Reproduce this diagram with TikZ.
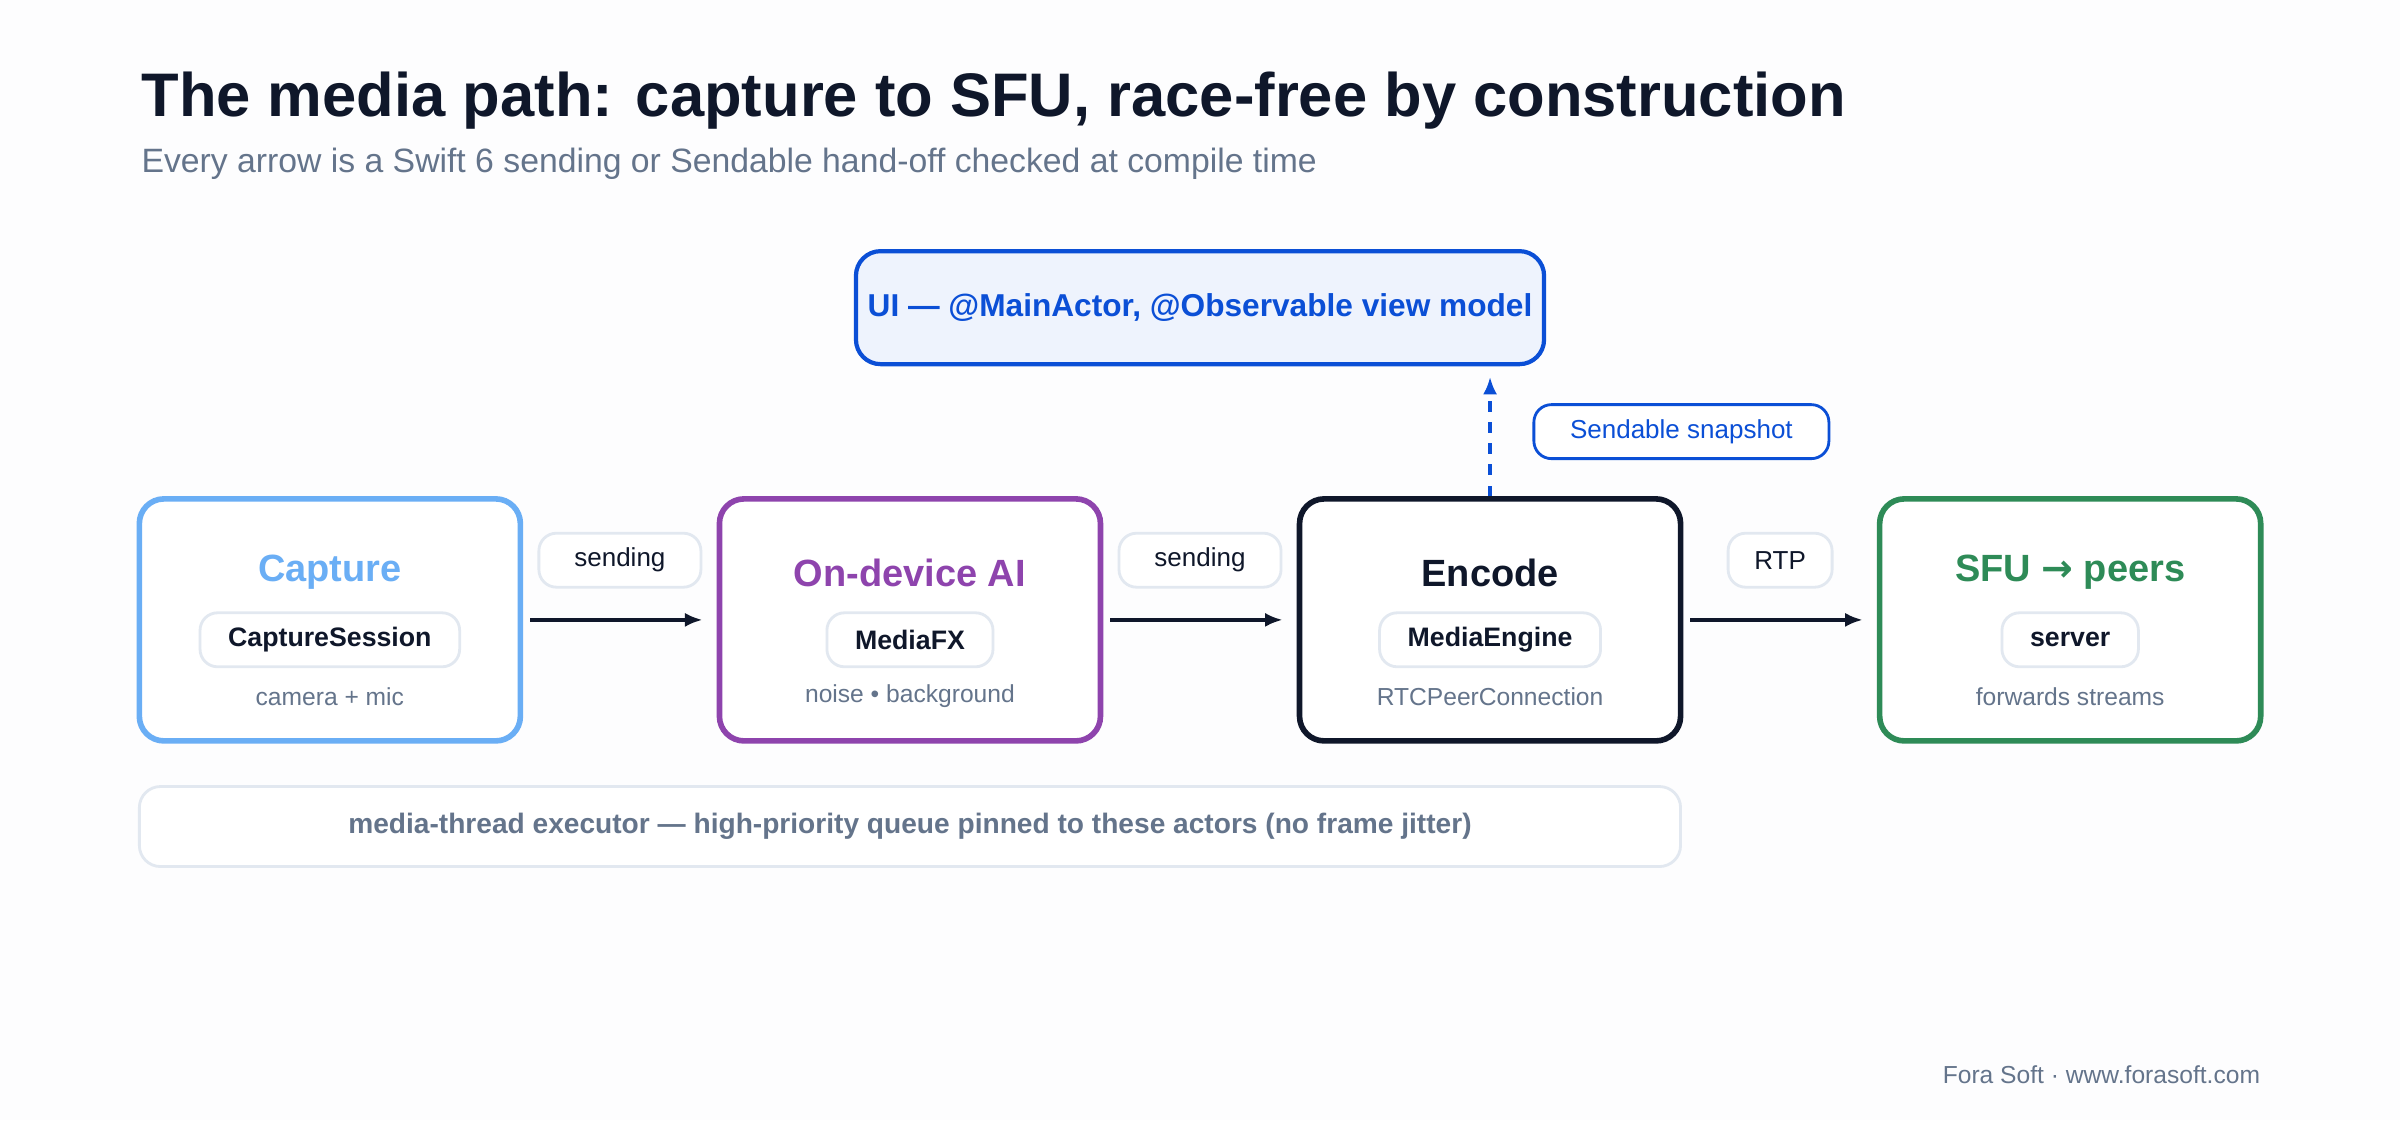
\documentclass[tikz,border=0pt]{standalone}
\usepackage{fontspec}
\setmainfont{Liberation Sans}
\newfontfamily\symfont{DejaVu Sans}
\usetikzlibrary{arrows.meta, positioning}
\definecolor{inkdark}{HTML}{0F172A}
\definecolor{inkgray}{HTML}{64748B}
\definecolor{pillline}{HTML}{E2E8F0}
\definecolor{capblue}{HTML}{6AAEF5}
\definecolor{aipurple}{HTML}{8E44AD}
\definecolor{sfugreen}{HTML}{2E8B57}
\definecolor{uiblue}{HTML}{0B4FD6}
\definecolor{uifill}{HTML}{EEF3FD}
\definecolor{pagebg}{HTML}{FDFDFE}

\begin{document}
\begin{tikzpicture}[
    x=0.015306cm, y=-0.015306cm,
    stage/.style={rectangle, draw, line width=1.6pt, rounded corners=7pt,
                  minimum width=3.81cm, minimum height=2.42cm, fill=white},
    pill/.style={rectangle, draw=pillline, line width=0.8pt, rounded corners=5pt,
                 fill=white, minimum height=0.54cm, inner xsep=8pt,
                 font=\fontsize{7.6}{8}\selectfont\bfseries, text=inkdark},
    tag/.style={rectangle, draw=pillline, line width=0.8pt, rounded corners=5pt,
                fill=white, minimum height=0.54cm, minimum width=1.62cm,
                font=\fontsize{7.4}{8}\selectfont, text=inkdark},
    stagetitle/.style={font=\fontsize{10.8}{12}\selectfont\bfseries},
    note/.style={font=\fontsize{7}{8}\selectfont, text=inkgray},
    flow/.style={-{Latex[length=5pt,width=4pt]}, line width=1pt, draw=inkdark}
]
    \fill[pagebg] (0,0) rectangle (1568,732);
    \useasboundingbox (0,0) rectangle (1568,732);

    % title
    \node[anchor=base west, inner xsep=0pt, text=inkdark, font=\fontsize{17.5}{20}\selectfont\bfseries]
        (title) at (92,76) {The media path: capture to SFU, race-free by construction};
    \node[anchor=base west, inner xsep=0pt, text=inkgray, font=\fontsize{9.6}{11}\selectfont]
        (subtitle) at (92,113) {Every arrow is a Swift 6 sending or Sendable hand-off checked at compile time};

    % stages
    \node[stage, draw=capblue]   (capture) at (215.5,405) {};
    \node[stage, draw=aipurple]  (ai)      at (594.5,405) {};
    \node[stage, draw=inkdark]   (encode)  at (973.5,405) {};
    \node[stage, draw=sfugreen]  (sfu)     at (1352.5,405) {};

    \node[stagetitle, text=capblue]  (capturetitle) at (215.5,374) {Capture};
    \node[stagetitle, text=aipurple] (aititle)      at (594.5,374) {On-device AI};
    \node[stagetitle, text=inkdark]  (encodetitle)  at (973.5,374) {Encode};
    \node[stagetitle, text=sfugreen] (sfutitle)     at (1352.5,374) {SFU {\symfont →} peers};

    \node[pill] (capturepill) at (215.5,418) {CaptureSession};
    \node[pill] (aipill)      at (594.5,418) {MediaFX};
    \node[pill] (encodepill)  at (973.5,418) {MediaEngine};
    \node[pill] (sfupill)     at (1352.5,418) {server};

    \node[note] (capturenote) at (215.5,455) {camera + mic};
    \node[note] (ainote)      at (594.5,455) {noise • background};
    \node[note] (encodenote)  at (973.5,455) {RTCPeerConnection};
    \node[note] (sfunote)     at (1352.5,455) {forwards streams};

    % hand-offs
    \draw[flow] ([xshift=2]capture.east) -- ([xshift=-4]ai.west);
    \draw[flow] ([xshift=2]ai.east) -- ([xshift=-4]encode.west);
    \draw[flow] ([xshift=2]encode.east) -- ([xshift=-4]sfu.west);

    \node[tag] (send1) at (405,366) {sending};
    \node[tag] (send2) at (784,366) {sending};
    \node[tag, minimum width=1.04cm] (rtp) at (1163,366) {RTP};

    % ui
    \node[rectangle, draw=uiblue, fill=uifill, line width=1.2pt, rounded corners=7pt,
          minimum width=6.8cm, minimum height=1.13cm, text=uiblue,
          font=\fontsize{9}{10}\selectfont\bfseries]
        (ui) at (784,201) {UI — @MainActor, @Observable view model};
    \draw[-{Latex[length=5pt,width=4pt]}, line width=1pt, draw=uiblue, dashed]
        (encode.north) -- ([yshift=-3]ui.south -| encode.north);
    \node[rectangle, draw=uiblue, fill=white, line width=0.8pt, rounded corners=5pt,
          minimum width=2.95cm, minimum height=0.54cm, text=uiblue,
          font=\fontsize{7.4}{8}\selectfont]
        (snapshot) at (1098.5,282) {Sendable snapshot};

    % executor bar
    \node[rectangle, draw=pillline, line width=0.8pt, rounded corners=6pt, fill=white,
          minimum width=15.41cm, minimum height=0.8cm, text=inkgray,
          font=\fontsize{8}{9}\selectfont\bfseries]
        (executor) at (594.5,540) {media-thread executor — high-priority queue pinned to these actors (no frame jitter)};

    \node[anchor=base east, inner xsep=0pt, text=inkgray, font=\fontsize{7}{8}\selectfont]
        (footer) at (1477,708) {Fora Soft · www.forasoft.com};
\end{tikzpicture}
\end{document}
